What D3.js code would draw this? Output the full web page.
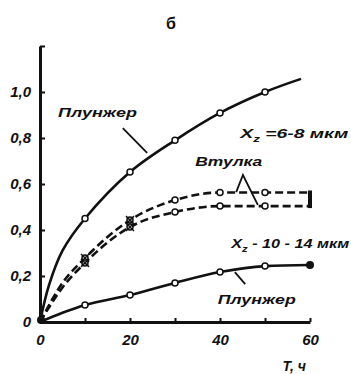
<!DOCTYPE html>
<html>
<head>
<meta charset="utf-8">
<script src="https://cdn.jsdelivr.net/npm/d3@7"></script>
<style>
body { margin: 0; background: #fff; }
text { font-family: "Liberation Sans", Arial, sans-serif; font-weight: bold; fill: #111; }
</style>
</head>
<body>
<div id="chart"></div>
<script>
// time, hours
var timesUpper = [0, 2, 5, 10, 20, 30, 40, 50, 58];
var plungerFine = [0, 0.16, 0.31, 0.45, 0.652, 0.79, 0.909, 1.0, 1.057];

var timesDash = [0, 5, 10, 20, 30, 40, 50, 60];
var sleeveFine = [0, 0.17, 0.278, 0.443, 0.53, 0.563, 0.563, 0.563];
var sleeveCoarse = [0, 0.15, 0.257, 0.413, 0.478, 0.504, 0.504, 0.504];

var timesLower = [0, 5, 10, 20, 30, 40, 50, 60];
var plungerCoarse = [0, 0.04, 0.074, 0.117, 0.17, 0.217, 0.243, 0.248];

var markerTimes = [10, 20, 30, 40, 50];
var xTicks = [0, 10, 20, 30, 40, 50, 60];
var xTickLabels = ["0", "", "20", "", "40", "", "60"];
var yTicks = [0, 0.2, 0.4, 0.6, 0.8, 1.0, 1.2];
var yTickLabels = ["0", "0,2", "0,4", "0,6", "0,8", "1,0", ""];

var width = 351, height = 374;
var margin = {top: 46, right: 41, bottom: 52, left: 40};

var svg = d3.select("#chart")
.append("svg")
.attr("width", width)
.attr("height", height);

var x = d3.scaleLinear().domain([0, 60]).range([margin.left, width - margin.right]);
var y = d3.scaleLinear().domain([0, 1.2]).range([height - margin.bottom, margin.top]);

const pairs = (ts, vs) => ts.map((t, i) => ({t: t, v: vs[i]}));

var line = d3.line()
.x(d => x(d.t))
.y(d => y(d.v))
.curve(d3.curveMonotoneX);

var smoothLine = d3.line()
.x(d => x(d.t))
.y(d => y(d.v))
.curve(d3.curveCatmullRom.alpha(0.5));

// axes
var yAxis = d3.axisLeft(y)
.tickValues(yTicks)
.tickFormat((d, i) => yTickLabels[i])
.tickSizeInner(-5)
.tickSizeOuter(0)
.tickPadding(9);

var xAxis = d3.axisBottom(x)
.tickValues(xTicks)
.tickFormat((d, i) => xTickLabels[i])
.tickSizeInner(-4)
.tickSizeOuter(0)
.tickPadding(12);

var gy = svg.append("g")
.attr("transform", "translate(" + margin.left + ",0)")
.call(yAxis);
var gx = svg.append("g")
.attr("transform", "translate(0," + y(0) + ")")
.call(xAxis);

[gx, gy].forEach(g => {
    g.select(".domain").attr("stroke", "#111").attr("stroke-width", 3);
    g.selectAll(".tick line").attr("stroke", "#111").attr("stroke-width", 2);
    g.selectAll(".tick text")
    .attr("font-family", "Liberation Sans, Arial, sans-serif")
    .attr("font-size", 15)
    .attr("font-weight", "bold")
    .style("font-style", "italic")
    .attr("fill", "#111");
});

// curves
var series = [
    {pts: pairs(timesUpper, plungerFine), dash: null, gen: smoothLine},
    {pts: pairs(timesDash, sleeveFine), dash: "8,4", gen: line},
    {pts: pairs(timesDash, sleeveCoarse), dash: "8,4", gen: line},
    {pts: pairs(timesLower, plungerCoarse), dash: null, gen: line}
];

svg.selectAll(".curve")
.data(series)
.enter()
.append("path")
.attr("class", "curve")
.attr("d", d => d.gen(d.pts))
.attr("fill", "none")
.attr("stroke", "#111")
.attr("stroke-width", 2.6)
.attr("stroke-dasharray", d => d.dash);

// end bracket of the dashed pair
svg.append("line")
.attr("x1", x(60)).attr("x2", x(60))
.attr("y1", y(sleeveFine[sleeveFine.length - 1]) - 2)
.attr("y2", y(sleeveCoarse[sleeveCoarse.length - 1]) + 2)
.attr("stroke", "#111")
.attr("stroke-width", 4);

// markers
series.forEach(s => {
    var pts = s.pts.filter(p => markerTimes.includes(p.t));
    svg.append("g")
    .selectAll("circle")
    .data(pts)
    .enter()
    .append("circle")
    .attr("cx", d => x(d.t))
    .attr("cy", d => y(d.v))
    .attr("r", 3)
    .attr("fill", "#fff")
    .attr("stroke", "#111")
    .attr("stroke-width", 1.5);
});

// crosses on the sleeve markers at 10 and 20 h
[sleeveFine, sleeveCoarse].forEach(vals => {
    pairs(timesDash, vals).filter(p => p.t == 10 || p.t == 20).forEach(p => {
        svg.append("path")
        .attr("d", "M" + (x(p.t) - 4) + "," + (y(p.v) - 4) + "l8,8M" + (x(p.t) + 4) + "," + (y(p.v) - 4) + "l-8,8")
        .attr("stroke", "#111")
        .attr("stroke-width", 1.5);
    });
});

// filled end dot and origin blob
svg.append("circle")
.attr("cx", x(60)).attr("cy", y(plungerCoarse[plungerCoarse.length - 1]))
.attr("r", 4).attr("fill", "#111");
svg.append("circle")
.attr("cx", x(0) + 1).attr("cy", y(0) - 2)
.attr("r", 4).attr("fill", "#111");

// leader lines (data coords)
var leaders = [
    [[18.4, 0.843], [23.8, 0.735]],
    [[43.6, 0.565], [45.1, 0.639], [48.4, 0.509]],
    [[45.6, 0.165], [43.3, 0.217]]
];
svg.selectAll(".leader")
.data(leaders)
.enter()
.append("path")
.attr("class", "leader")
.attr("d", d => d3.line().x(p => x(p[0])).y(p => y(p[1]))(d))
.attr("fill", "none")
.attr("stroke", "#111")
.attr("stroke-width", 1.8);

// labels
var labels = [
    {text: "Плунжер", t: 4, v: 0.89, w: 79, size: 13},
    {text: "Втулка", t: 34.5, v: 0.68, w: 67, size: 13},
    {text: "Плунжер", t: 39.5, v: 0.08, w: 78, size: 13}
];
svg.selectAll(".lbl")
.data(labels)
.enter()
.append("text")
.attr("class", "lbl")
.attr("x", d => x(d.t))
.attr("y", d => y(d.v))
.attr("font-size", d => d.size)
.style("font-style", "italic")
.attr("textLength", d => d.w)
.attr("lengthAdjust", "spacingAndGlyphs")
.text(d => d.text);

var sizes = [
    {main: " =6-8 мкм", t: 44.5, v: 0.80, w: 108},
    {main: " - 10 - 14 мкм", t: 42.5, v: 0.32, w: 118}
];
sizes.forEach(s => {
    var g = svg.append("text")
    .attr("x", x(s.t))
    .attr("y", y(s.v))
    .attr("font-size", 13)
    .style("font-style", "italic")
    .attr("textLength", s.w)
    .attr("lengthAdjust", "spacingAndGlyphs");
    g.append("tspan").text("X");
    g.append("tspan").attr("dy", 4).attr("font-size", 9).text("z");
    g.append("tspan").attr("dy", -4).text(s.main);
});

svg.append("text")
.attr("x", 171).attr("y", 29)
.attr("text-anchor", "middle")
.attr("font-size", 16)
.text("б");

svg.append("text")
.attr("x", x(56.5)).attr("y", 371)
.attr("text-anchor", "middle")
.attr("font-size", 14)
.style("font-style", "italic")
.text("T, ч");
</script>
</body>
</html>
